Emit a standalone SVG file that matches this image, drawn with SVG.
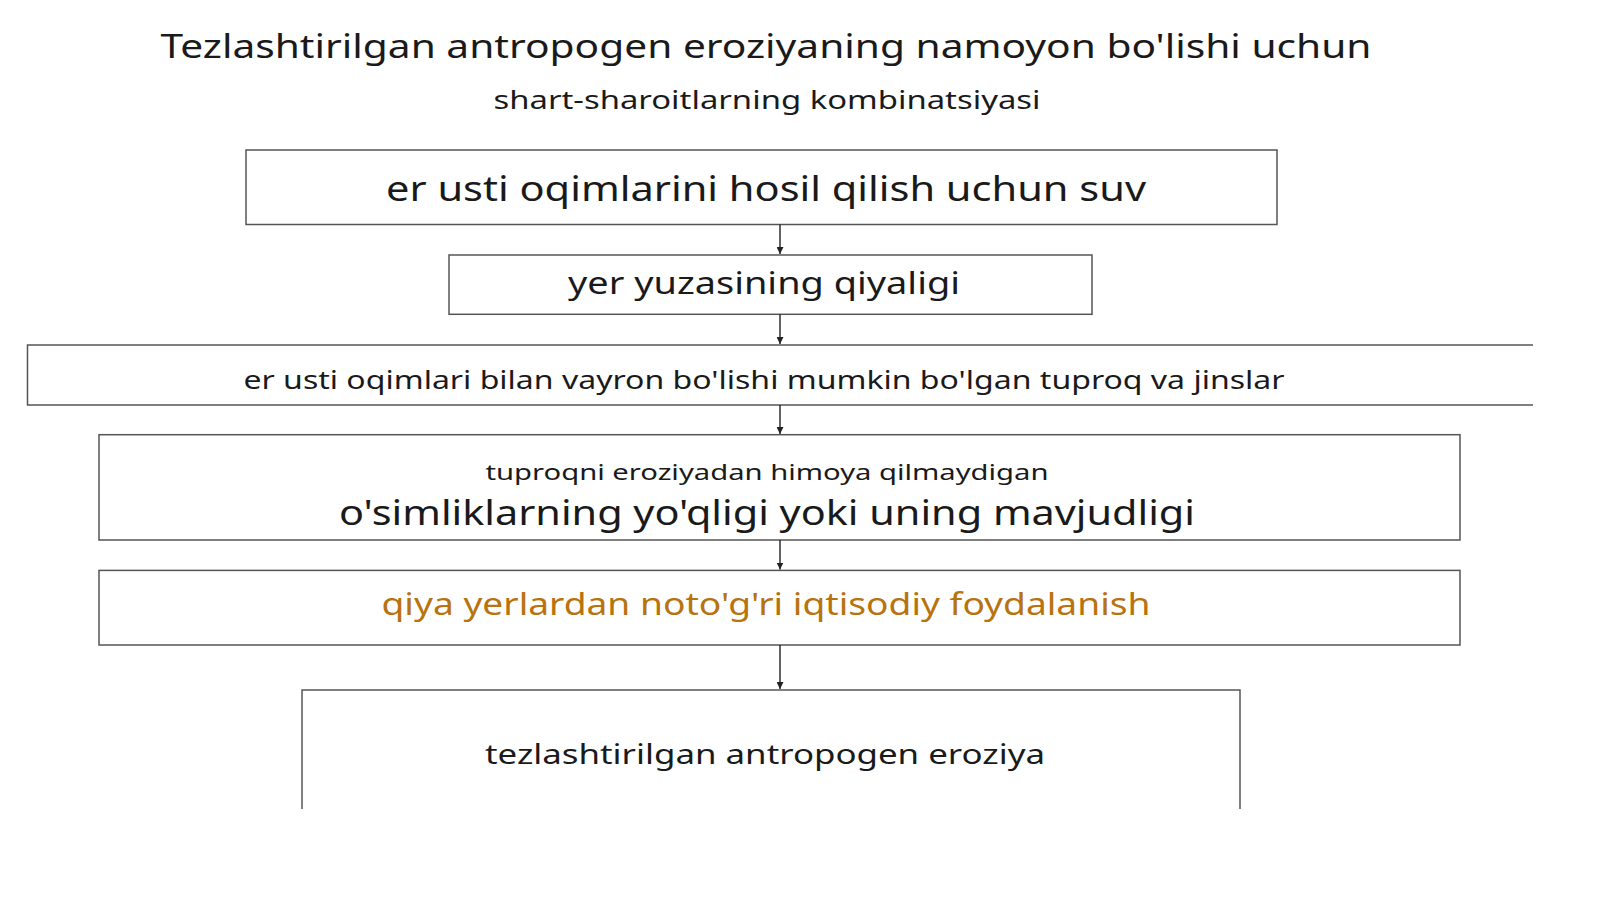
<svg xmlns="http://www.w3.org/2000/svg" width="1600" height="899" viewBox="0 0 1600 899">
<defs>
<style>
text{font-family:"Noto Sans","Liberation Sans",sans-serif;fill:#1a1a1a;text-anchor:middle}
.box{fill:#fff;stroke:#555;stroke-width:1.5}
.ln{fill:none;stroke:#555;stroke-width:1.5}
.conn{stroke:#222;stroke-width:1.4;fill:none;marker-end:url(#ah)}
</style>
<marker id="ah" viewBox="0 0 10 10" refX="10" refY="5" markerWidth="7" markerHeight="7" orient="auto" markerUnits="userSpaceOnUse"><path d="M0,0 L10,5 L0,10 z" fill="#222"/></marker>
</defs>
<rect width="1600" height="899" fill="#fff"/>
<g id="title">
<text x="766" y="58" font-size="32.7" textLength="1211" lengthAdjust="spacingAndGlyphs">Tezlashtirilgan antropogen eroziyaning namoyon bo'lishi uchun</text>
<text x="767" y="109" font-size="25.5" textLength="547" lengthAdjust="spacingAndGlyphs">shart-sharoitlarning kombinatsiyasi</text>
</g>
<g id="n1">
<rect class="box" x="246" y="150" width="1031" height="74.5"/>
<text x="766" y="201" font-size="33.7" textLength="760" lengthAdjust="spacingAndGlyphs">er usti oqimlarini hosil qilish uchun suv</text>
</g>
<g id="n2">
<rect class="box" x="449" y="255" width="643" height="59.3"/>
<text x="764" y="294" font-size="31.6" textLength="392" lengthAdjust="spacingAndGlyphs">yer yuzasining qiyaligi</text>
</g>
<g id="n3">
<rect x="27.5" y="345" width="1505.5" height="60" fill="#fff"/>
<path class="ln" d="M1533,345 H27.5 V405 H1533"/>
<text x="764" y="389" font-size="25.5" textLength="1041" lengthAdjust="spacingAndGlyphs">er usti oqimlari bilan vayron bo'lishi mumkin bo'lgan tuproq va jinslar</text>
</g>
<g id="n4">
<rect class="box" x="99" y="434.7" width="1361" height="105.3"/>
<text x="767" y="479.6" font-size="22.4" textLength="563" lengthAdjust="spacingAndGlyphs">tuproqni eroziyadan himoya qilmaydigan</text>
<text x="767" y="524.5" font-size="33.7" textLength="856" lengthAdjust="spacingAndGlyphs">o'simliklarning yo'qligi yoki uning mavjudligi</text>
</g>
<g id="n5">
<rect class="box" x="99" y="570.4" width="1361" height="74.6"/>
<text x="766" y="615.3" font-size="30.6" textLength="769" lengthAdjust="spacingAndGlyphs" style="fill:#b8730f">qiya yerlardan noto'g'ri iqtisodiy foydalanish</text>
</g>
<g id="n6">
<rect x="302" y="690" width="938" height="119" fill="#fff"/>
<path class="ln" d="M302,809 V690 H1240 V809"/>
<text x="765" y="764" font-size="27.5" textLength="560" lengthAdjust="spacingAndGlyphs">tezlashtirilgan antropogen eroziya</text>
</g>
<g id="connectors">
<line class="conn" x1="780" y1="224.5" x2="780" y2="254"/>
<line class="conn" x1="780" y1="314.3" x2="780" y2="344"/>
<line class="conn" x1="780" y1="405" x2="780" y2="434"/>
<line class="conn" x1="780" y1="540" x2="780" y2="569.5"/>
<line class="conn" x1="780" y1="645" x2="780" y2="689"/>
</g>
</svg>
